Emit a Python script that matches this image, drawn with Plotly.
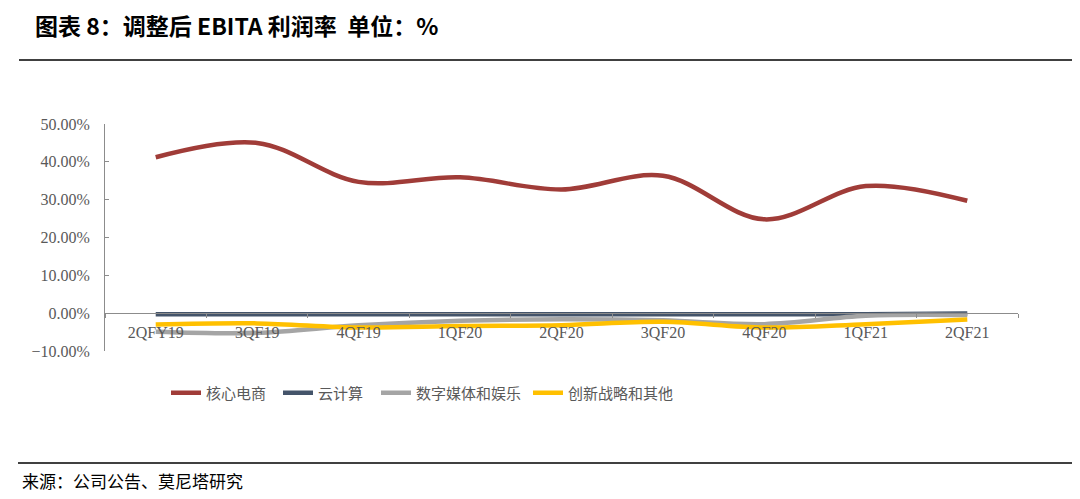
import plotly.graph_objects as go

categories = ["2QFY19", "3QF19", "4QF19", "1QF20", "2QF20", "3QF20", "4QF20", "1QF21", "2QF21"]
core_commerce = [41.2, 45.0, 34.7, 35.9, 32.7, 36.3, 24.8, 33.6, 29.7]
cloud = [-0.3, -0.3, -0.3, -0.3, -0.3, -0.3, -0.3, -0.3, -0.1]
digital_media = [-4.9, -5.2, -3.2, -2.0, -1.6, -1.9, -2.9, -0.7, -0.5]
innovation = [-3.0, -2.7, -3.8, -3.4, -3.2, -2.3, -3.8, -2.9, -1.7]

names = ["核心电商", "云计算", "数字媒体和娱乐", "创新战略和其他"]
colors = ["#A03C38", "#44546A", "#A5A5A5", "#FFC000"]
series = [core_commerce, cloud, digital_media, innovation]

OFF = 8  # page body margin
W, H = 1080 - OFF, 499 - OFF
L, R, T, B = 105 - OFF, 1018 - OFF, 124 - OFF, 351 - OFF
pw, ph = R - L, B - T

def px(x):
    return (x - OFF - L) / pw

def py(y):
    return (B - (y - OFF)) / ph

legend_x = [166, 278, 376, 528]
legend_font = dict(family="Noto Sans CJK SC", size=15, color="#595959")

fig = go.Figure()
for i, (nm, col, vals) in enumerate(zip(names, colors, series)):
    lg = "legend" if i == 0 else f"legend{i + 1}"
    fig.add_trace(go.Scatter(
        x=categories, y=vals, name=nm, mode="lines",
        line=dict(color=col, width=4.5, shape="spline", smoothing=1.0),
        legend=lg,
    ))

legends = {}
for i, lx in enumerate(legend_x):
    key = "legend" if i == 0 else f"legend{i + 1}"
    legends[key] = dict(
        x=px(lx), xanchor="left", y=py(393), yanchor="middle",
        font=legend_font, bgcolor="rgba(0,0,0,0)", borderwidth=0,
        itemwidth=30,
    )

tick_font = dict(family="Liberation Serif, DejaVu Serif, serif", size=16, color="#595959")

fig.update_layout(
    width=W, height=H,
    margin=dict(l=L, r=W - R, t=T, b=H - B),
    paper_bgcolor="white", plot_bgcolor="white",
    showlegend=True,
    title=dict(
        text="<b>图表 8：调整后 EBITA 利润率  单位：%</b>",
        x=(35 - OFF) / W, xanchor="left", xref="container",
        y=1 - (27 - OFF) / H, yanchor="middle", yref="container",
        font=dict(family="Noto Sans CJK SC", size=23, color="#000000"),
    ),
    xaxis=dict(
        type="category", range=[-0.5, 8.5],
        anchor="free", position=10 / 60,
        showline=True, linecolor="#8C8C8C", linewidth=1,
        ticks="outside", ticklen=4, tickcolor="#8C8C8C", tickson="boundaries",
        showgrid=False, zeroline=False,
        tickfont=tick_font, ticklabelstandoff=5,
    ),
    yaxis=dict(
        range=[-10, 50], dtick=10, tickformat=".2f", ticksuffix="%",
        showline=True, linecolor="#8C8C8C", linewidth=1,
        ticks="inside", ticklen=4, tickcolor="#8C8C8C",
        showgrid=False, zeroline=False,
        tickfont=tick_font, ticklabelstandoff=11,
    ),
    shapes=[
        dict(type="line", xref="paper", yref="paper",
             x0=px(19), x1=px(1080), y0=py(60), y1=py(60),
             line=dict(color="#000000", width=1.5)),
        dict(type="line", xref="paper", yref="paper",
             x0=px(18), x1=px(1080), y0=py(463), y1=py(463),
             line=dict(color="#000000", width=1.5)),
    ],
    annotations=[
        dict(text="来源：公司公告、莫尼塔研究", xref="paper", yref="paper",
             x=px(20), y=py(480), xanchor="left", yanchor="middle",
             showarrow=False,
             font=dict(family="Noto Sans CJK SC", size=17, color="#000000")),
    ],
    **legends,
)

fig.write_html("out.html")
